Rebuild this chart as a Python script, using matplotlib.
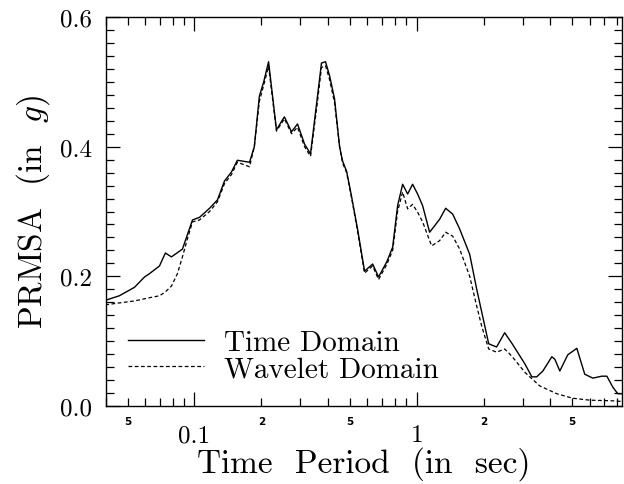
import matplotlib
matplotlib.use("Agg")
import matplotlib.pyplot as plt
from matplotlib.ticker import FixedLocator, FixedFormatter, MultipleLocator

plt.rcParams['font.family'] = ['cmr10', 'DejaVu Serif']
plt.rcParams['mathtext.fontset'] = 'cm'
plt.rcParams['axes.formatter.use_mathtext'] = True

# time domain PRMSA
period_td = [0.0397, 0.0459, 0.0537, 0.0596, 0.0627, 0.0696, 0.0740, 0.0788, 0.0883,
             0.098, 0.1054, 0.117, 0.127, 0.1365, 0.1468, 0.156, 0.177, 0.186, 0.196,
             0.205, 0.2156, 0.234, 0.254, 0.2735, 0.291, 0.313, 0.333, 0.358, 0.373,
             0.389, 0.406, 0.427, 0.450, 0.464, 0.484, 0.509, 0.542, 0.583, 0.634,
             0.674, 0.733, 0.780, 0.821, 0.865, 0.911, 0.959, 1.01, 1.064, 1.144,
             1.269, 1.351, 1.453, 1.562, 1.733, 1.864, 1.963, 2.11, 2.29, 2.49, 2.68,
             3.07, 3.30, 3.47, 3.70, 4.06, 4.19, 4.41, 4.79, 5.26, 5.71, 6.21, 6.81,
             7.18, 7.64, 8.04, 8.4]
prmsa_td = [0.163, 0.170, 0.183, 0.199, 0.204, 0.216, 0.236, 0.230, 0.242,
            0.287, 0.291, 0.305, 0.318, 0.347, 0.361, 0.379, 0.376, 0.400, 0.478,
            0.500, 0.531, 0.426, 0.446, 0.423, 0.435, 0.404, 0.389, 0.478, 0.529,
            0.531, 0.509, 0.474, 0.400, 0.378, 0.362, 0.324, 0.273, 0.208, 0.219,
            0.199, 0.222, 0.245, 0.309, 0.342, 0.327, 0.342, 0.327, 0.309, 0.268,
            0.288, 0.305, 0.296, 0.273, 0.234, 0.180, 0.145, 0.096, 0.091, 0.113, 0.097,
            0.065, 0.045, 0.045, 0.054, 0.076, 0.072, 0.054, 0.079, 0.089, 0.049, 0.043, 0.046,
            0.046, 0.029, 0.019, 0.019]

# wavelet domain PRMSA
period_wd = [0.0397, 0.0459, 0.0537, 0.0627, 0.0696, 0.0740, 0.0788, 0.0838, 0.0883,
             0.093, 0.098, 0.1054, 0.117, 0.127, 0.1365, 0.1468, 0.156, 0.177, 0.186,
             0.196, 0.205, 0.2156, 0.234, 0.254, 0.2735, 0.291, 0.313, 0.333, 0.358,
             0.373, 0.389, 0.406, 0.427, 0.450, 0.464, 0.484, 0.509, 0.542, 0.583,
             0.634, 0.674, 0.733, 0.780, 0.821, 0.865, 0.911, 0.959, 1.01, 1.064,
             1.168, 1.269, 1.351, 1.453, 1.562, 1.733, 1.864, 1.963, 2.11, 2.29, 2.49,
             2.68, 3.07, 3.58, 4.27, 5.04, 6.02, 7.64, 8.4]
prmsa_wd = [0.156, 0.159, 0.162, 0.167, 0.170, 0.176, 0.185, 0.204, 0.230,
            0.258, 0.284, 0.287, 0.300, 0.315, 0.343, 0.357, 0.376, 0.369, 0.400,
            0.470, 0.495, 0.524, 0.424, 0.443, 0.420, 0.430, 0.400, 0.385, 0.470,
            0.522, 0.525, 0.503, 0.468, 0.400, 0.375, 0.360, 0.322, 0.270, 0.205,
            0.216, 0.195, 0.218, 0.240, 0.300, 0.330, 0.304, 0.311, 0.299, 0.284,
            0.247, 0.255, 0.268, 0.262, 0.242, 0.200, 0.154, 0.123, 0.088, 0.083, 0.088,
            0.077, 0.052, 0.031, 0.019, 0.012, 0.009, 0.008, 0.007]

x_major = [0.1, 1]
x_major_labels = ['0.1', '1']
x_minor = [0.04, 0.05, 0.06, 0.07, 0.08, 0.09, 0.2, 0.3, 0.4, 0.5, 0.6, 0.7, 0.8, 0.9,
           2, 3, 4, 5, 6, 7, 8]
x_minor_labels = ['', '5', '', '', '', '', '2', '', '', '5', '', '', '', '',
                  '2', '', '', '5', '', '', '']
y_major = [0.0, 0.2, 0.4, 0.6]
y_major_labels = ['0.0', '0.2', '0.4', '0.6']

fig = plt.figure(figsize=(6.24, 4.85), dpi=100)
ax = fig.add_axes([0.1699, 0.1608, 0.8269, 0.8021])

ax.plot(period_td, prmsa_td, color='black', lw=1.0, label='Time Domain')
ax.plot(period_wd, prmsa_wd, color='black', lw=0.9, dashes=(3, 2), label='Wavelet Domain')

ax.set_xscale('log')
ax.set_xlim(0.04, 8.4)
ax.set_ylim(0, 0.6)

ax.xaxis.set_major_locator(FixedLocator(x_major))
ax.xaxis.set_major_formatter(FixedFormatter(x_major_labels))
ax.xaxis.set_minor_locator(FixedLocator(x_minor))
ax.xaxis.set_minor_formatter(FixedFormatter(x_minor_labels))
ax.yaxis.set_minor_locator(MultipleLocator(0.02))
ax.set_yticks(y_major)
ax.set_yticklabels(y_major_labels)

ax.tick_params(which='both', direction='in', top=True, right=True, width=0.9)
ax.tick_params(which='major', length=10)
ax.tick_params(which='minor', length=6)
ax.tick_params(axis='y', which='major', labelsize=18, pad=10)
ax.tick_params(axis='x', which='major', labelsize=18, pad=13)
ax.tick_params(axis='x', which='minor', labelsize=7.5, pad=7)
for lab in ax.xaxis.get_minorticklabels():
    lab.set_fontfamily('DejaVu Sans')
    lab.set_fontweight('bold')
for sp in ax.spines.values():
    sp.set_linewidth(1.0)

ax.set_xlabel('Time  Period  (in  sec)', fontsize=24, labelpad=0)
ax.set_ylabel(r'PRMSA  (in  $g$)', fontsize=24, labelpad=6)

ax.legend(loc='lower left', bbox_to_anchor=(0.02, 0.03), frameon=False, fontsize=21,
          handlelength=2.6, handletextpad=0.7, labelspacing=0.0, borderaxespad=0)

fig.savefig('out.png', dpi=100)
